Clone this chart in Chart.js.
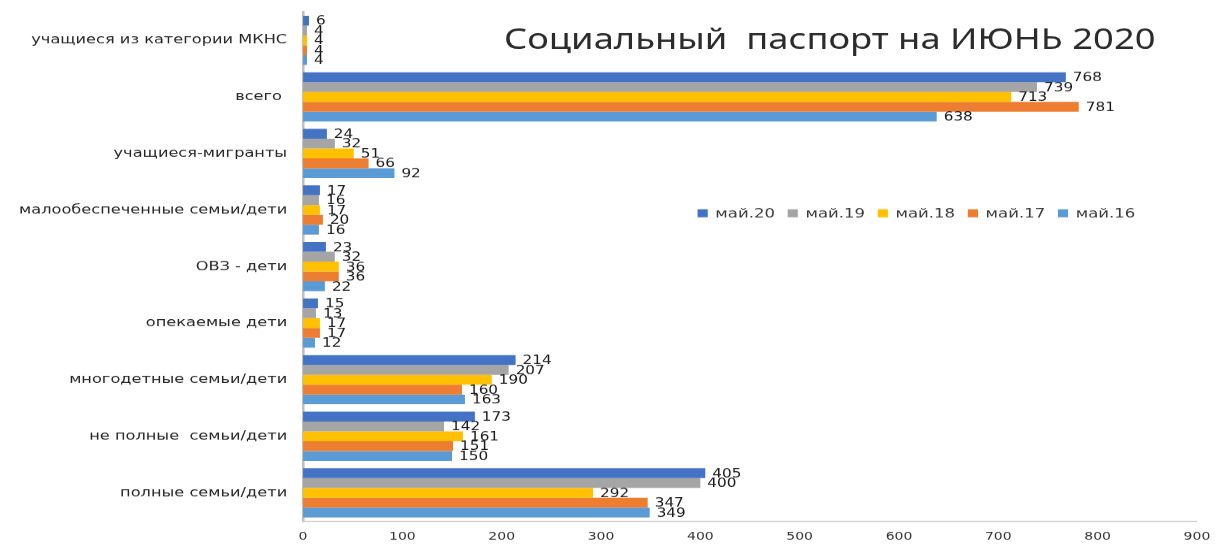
<!DOCTYPE html>
<html>
<head>
<meta charset="utf-8">
<script src="https://cdn.jsdelivr.net/npm/chart.js@4.4.1/dist/chart.umd.min.js"></script>
<style>
  html, body { margin: 0; padding: 0; background: #ffffff; overflow: hidden; }
  #outer { width: 1216px; height: 546px; position: relative; overflow: hidden; background: #fff; }
  #wrap { position: absolute; left: 0; top: 0; width: 957px; height: 546px; transform-origin: 0 0; }
</style>
</head>
<body>
<div id="outer"><div id="wrap"><canvas id="c" width="957" height="546"></canvas></div></div>
<script>
// ---- data ----
const titleText = 'Социальный  паспорт на ИЮНЬ 2020';
const categories = [
  'учащиеся из категории МКНС',
  'всего ',
  'учащиеся-мигранты',
  'малообеспеченные семьи/дети',
  'ОВЗ - дети',
  'опекаемые дети',
  'многодетные семьи/дети',
  'не полные  семьи/дети',
  'полные семьи/дети'
];
const seriesNames = ['май.20', 'май.19', 'май.18', 'май.17', 'май.16'];
const may20 = [6, 768, 24, 17, 23, 15, 214, 173, 405];
const may19 = [4, 739, 32, 16, 32, 13, 207, 142, 400];
const may18 = [4, 713, 51, 17, 36, 17, 190, 161, 292];
const may17 = [4, 781, 66, 20, 36, 17, 160, 151, 347];
const may16 = [4, 638, 92, 16, 22, 12, 163, 150, 349];
const xTickMin = 0, xTickMax = 900, xTickStep = 100;

// ---- styles ----
const colors = ['#4472C4', '#A5A5A5', '#FFC000', '#ED7D31', '#5B9BD5'];
const STRETCH = 1216 / 957;
document.getElementById('wrap').style.transform = 'scaleX(' + STRETCH + ')';
const FONT = '"DejaVu Sans", Verdana, sans-serif';

const seriesValues = [may20, may19, may18, may17, may16];

const overlayPlugin = {
  id: 'overlay',
  afterDatasetsDraw(chart) {
    const ctx = chart.ctx;
    ctx.save();
    // value labels
    ctx.font = '12px ' + FONT;
    ctx.fillStyle = '#1a1a1a';
    ctx.textBaseline = 'middle';
    ctx.textAlign = 'left';
    chart.data.datasets.forEach((ds, i) => {
      const meta = chart.getDatasetMeta(i);
      meta.data.forEach((bar, j) => {
        ctx.fillText(String(ds.data[j]), bar.x + 5.5, bar.y + 1);
      });
    });
    // title
    ctx.font = '28.6px "Noto Sans", "Open Sans", sans-serif';
    ctx.fillStyle = '#2b2b2b';
    ctx.textAlign = 'center';
    ctx.fillText(titleText, 653, 41);
    // legend
    ctx.font = '13px ' + FONT;
    ctx.textAlign = 'left';
    let x = 549;
    const y = 213;
    chart.data.datasets.forEach((ds) => {
      ctx.fillStyle = ds.backgroundColor;
      ctx.fillRect(x, y - 4, 8, 8);
      ctx.fillStyle = '#3a3a3a';
      ctx.fillText(ds.label, x + 14, y + 1);
      x += 14 + ctx.measureText(ds.label).width + 10;
    });
    ctx.restore();
  }
};

new Chart(document.getElementById('c'), {
  type: 'bar',
  data: {
    labels: categories,
    datasets: seriesNames.map((name, i) => ({
      label: name,
      data: seriesValues[i],
      backgroundColor: colors[i],
      borderWidth: 0,
      categoryPercentage: 0.87,
      barPercentage: 1.0
    }))
  },
  options: {
    indexAxis: 'y',
    responsive: false,
    animation: false,
    devicePixelRatio: STRETCH,
    layout: { padding: { left: 0, right: 15, top: 12, bottom: 0 } },
    plugins: {
      legend: { display: false },
      title: { display: false },
      tooltip: { enabled: false }
    },
    scales: {
      x: {
        min: xTickMin,
        max: xTickMax,
        ticks: { stepSize: xTickStep, font: { family: FONT, size: 11 }, color: '#333333', padding: 9 },
        grid: { display: false, drawTicks: false },
        border: { display: true, color: '#BFBFBF', width: 1 },
        afterFit(scale) { scale.height = 25.5; scale.paddingLeft = 0; scale.paddingRight = 0; }
      },
      y: {
        ticks: { font: { family: FONT, size: 12.75 }, color: '#262626', padding: 12.5, autoSkip: false },
        grid: { display: false, drawTicks: false },
        border: { display: true, color: '#BFBFBF', width: 2 },
        afterFit(scale) { scale.width = 238.5; scale.paddingTop = 0; scale.paddingBottom = 0; }
      }
    }
  },
  plugins: [overlayPlugin]
});
</script>
</body>
</html>
